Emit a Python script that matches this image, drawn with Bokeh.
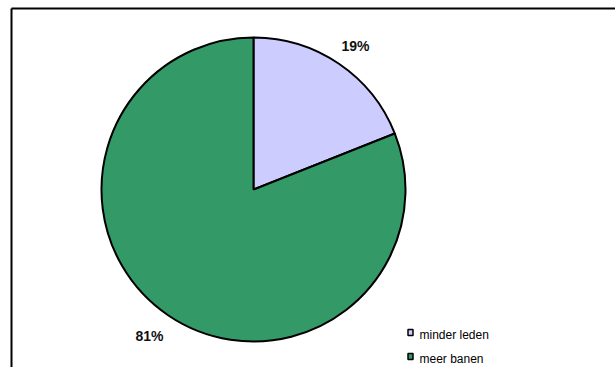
import math
from bokeh.plotting import figure
from bokeh.models import Range1d, ColumnDataSource
from bokeh.core.properties import value
from bokeh.embed import file_html
from bokeh.resources import INLINE

# data
categories = ["minder leden", "meer banen"]
shares = [19, 81]
pct_labels = ["19%", "81%"]
colors = ["#CCCCFF", "#339966"]

W, H = 615, 367
p = figure(width=W, height=H, output_backend="svg", toolbar_location=None,
           x_range=Range1d(0, W), y_range=Range1d(0, H), min_border=0,
           outline_line_color=None, background_fill_color="white",
           border_fill_color="white")
p.axis.visible = False
p.grid.visible = False

# frame lines (top + left)
p.line([11, W], [H - 8, H - 8], line_color="black", line_width=2)
p.line([11, 11], [H - 8, 0], line_color="black", line_width=2)

cx, cy, r = 253, H - 189, 152
total = sum(shares)
starts, ends, cum = [], [], 0.0
for s in shares:
    a0 = math.pi / 2 - 2 * math.pi * cum / total
    cum += s
    a1 = math.pi / 2 - 2 * math.pi * cum / total
    starts.append(a0)
    ends.append(a1)

src = ColumnDataSource(dict(x=[cx] * len(shares), y=[cy] * len(shares),
                            start=starts, end=ends, color=colors, cat=categories))
p.wedge(x="x", y="y", radius=r, start_angle="start", end_angle="end",
        direction="clock", fill_color="color", line_color="black",
        line_width=2, source=src)

# percentage labels
lab_x = [355, 149]
lab_y = [H - 45, H - 335]
p.text(x=lab_x, y=lab_y, text=pct_labels, text_font=value("Liberation Sans"),
       text_font_style="bold", text_font_size="14px", text_align="center",
       text_baseline="middle", text_color="#111111")

# legend
lx = [410, 410]
ly = [H - 332, H - 356]
p.rect(x=lx, y=ly, width=5, height=6, fill_color=colors, line_color="black",
       line_width=1.5)
p.text(x=[419, 419], y=[H - 334, H - 358], text=categories,
       text_font=value("Liberation Sans"), text_font_size="12px",
       text_align="left", text_baseline="middle", text_color="black")

open("out.html", "w").write(file_html(p, INLINE))
